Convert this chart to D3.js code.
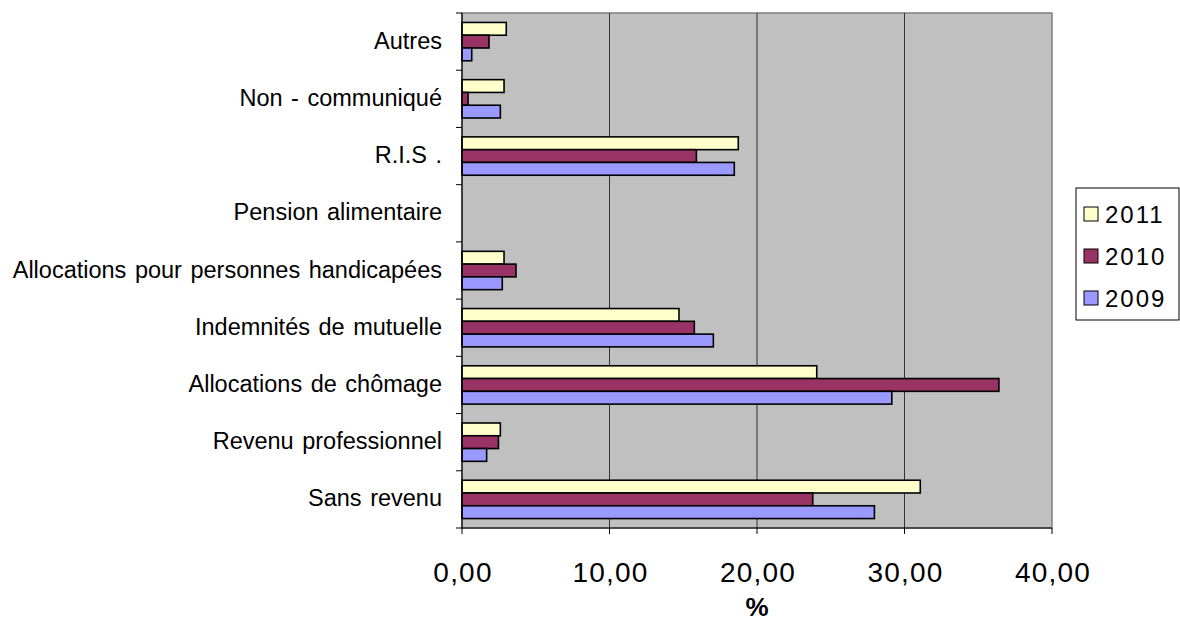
<!DOCTYPE html>
<html>
<head>
<meta charset="utf-8">
<script src="https://cdn.jsdelivr.net/npm/d3@7"></script>
<style>
  body { margin: 0; background: #fff; }
  svg { font-family: Arial, "Liberation Sans", sans-serif; }
</style>
</head>
<body>
<svg id="chart"></svg>
<script>
// categories, as drawn top to bottom
const categories = [
  "Autres",
  "Non - communiqué",
  "R.I.S .",
  "Pension alimentaire",
  "Allocations pour personnes handicapées",
  "Indemnités de mutuelle",
  "Allocations de chômage",
  "Revenu professionnel",
  "Sans revenu"
];
const seriesNames = ["2011", "2010", "2009"];
const values2011 = [3.0, 2.85, 18.73, 0, 2.85, 14.71, 24.05, 2.6, 31.07];
const values2010 = [1.83, 0.41, 15.89, 0, 3.66, 15.75, 36.4, 2.47, 23.78];
const values2009 = [0.66, 2.6, 18.46, 0, 2.73, 17.04, 29.14, 1.67, 27.96];
const xTicks = [0, 10, 20, 30, 40];
const colors = ["#FFFFCC", "#993366", "#9999FF"];

const width = 1180, height = 623;
const margin = {top: 13, right: 128, bottom: 95, left: 462};
const w = width - margin.left - margin.right;
const h = height - margin.top - margin.bottom;

const svg = d3.select("#chart").attr("width", width).attr("height", height);
const chart = svg.append("g").attr("transform", `translate(${margin.left},${margin.top})`);

const xScale = d3.scaleLinear().domain([0, 40]).range([0, w]);
const yScale = d3.scaleBand().domain(categories).range([0, h])
  .paddingInner(0.33).paddingOuter(0.165);
const ySub = d3.scaleBand().domain(seriesNames).range([0, yScale.bandwidth()]);
const color = d3.scaleOrdinal().domain(seriesNames).range(colors);

// plot background
chart.append("rect").attr("width", w).attr("height", h)
  .attr("fill", "#C0C0C0").attr("stroke", "#808080").attr("stroke-width", 1.5);

// vertical gridlines
chart.selectAll(".grid").data(xTicks.slice(1, -1)).enter().append("line")
  .attr("x1", d => xScale(d)).attr("x2", d => xScale(d))
  .attr("y1", 0).attr("y2", h)
  .attr("stroke", "#333").attr("stroke-width", 1);

// bars
const data = categories.map((c, i) => ({
  cat: c,
  vals: [
    {s: "2011", v: values2011[i]},
    {s: "2010", v: values2010[i]},
    {s: "2009", v: values2009[i]}
  ]
}));

const groups = chart.selectAll(".grp").data(data).enter().append("g")
  .attr("transform", d => `translate(0,${yScale(d.cat)})`);

groups.selectAll("rect").data(d => d.vals.filter(e => e.v > 0)).enter().append("rect")
  .attr("x", 0)
  .attr("y", d => ySub(d.s))
  .attr("width", d => xScale(d.v))
  .attr("height", ySub.bandwidth())
  .attr("fill", d => color(d.s))
  .attr("stroke", "#000").attr("stroke-width", 1.6);

// left axis line and boundary ticks
chart.append("line").attr("x1", 0).attr("x2", 0).attr("y1", 0).attr("y2", h)
  .attr("stroke", "#000").attr("stroke-width", 1.2);
const step = yScale.step();
chart.selectAll(".ytick").data(d3.range(categories.length + 1)).enter().append("line")
  .attr("x1", -6).attr("x2", 0)
  .attr("y1", d => d * step).attr("y2", d => d * step)
  .attr("stroke", "#000");

// category labels
chart.selectAll(".ylab").data(categories).enter().append("text")
  .attr("x", -20)
  .attr("y", d => yScale(d) + yScale.bandwidth() / 2 + 7)
  .attr("text-anchor", "end")
  .attr("font-size", 23.5)
  .attr("word-spacing", 2)
  .attr("fill", "#000")
  .text(d => d);

// bottom axis
chart.append("line").attr("x1", 0).attr("x2", w).attr("y1", h).attr("y2", h)
  .attr("stroke", "#000").attr("stroke-width", 1.2);
chart.selectAll(".xtick").data(xTicks).enter().append("line")
  .attr("x1", d => xScale(d)).attr("x2", d => xScale(d))
  .attr("y1", h).attr("y2", h + 6)
  .attr("stroke", "#000");
const fmt = d => d3.format(".2f")(d).replace(".", ",");
chart.selectAll(".xlab").data(xTicks).enter().append("text")
  .attr("x", d => xScale(d) + 1)
  .attr("y", h + 54)
  .attr("text-anchor", "middle")
  .attr("font-size", 28)
  .attr("letter-spacing", 1.2)
  .text(fmt);

chart.append("text")
  .attr("x", w / 2).attr("y", h + 88)
  .attr("text-anchor", "middle")
  .attr("font-size", 26).attr("font-weight", "bold")
  .text("%");

// legend
const legend = svg.append("g").attr("transform", "translate(1076,188)");
legend.append("rect").attr("width", 103).attr("height", 132)
  .attr("fill", "#fff").attr("stroke", "#000");
const items = legend.selectAll(".li").data(seriesNames).enter().append("g")
  .attr("transform", (d, i) => `translate(8,${26 + i * 42})`);
items.append("rect").attr("x", 0).attr("y", -7).attr("width", 14).attr("height", 14)
  .attr("fill", d => color(d)).attr("stroke", "#000");
items.append("text").attr("x", 21).attr("y", 9)
  .attr("font-size", 24).attr("letter-spacing", 2).text(d => d);
</script>
</body>
</html>
